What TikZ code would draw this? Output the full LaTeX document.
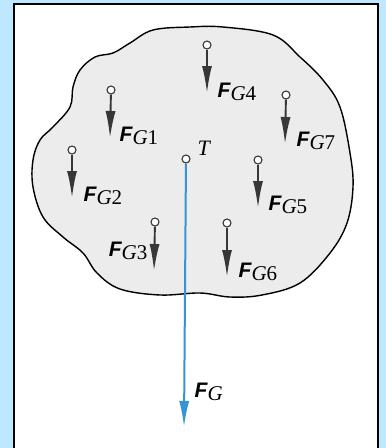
\documentclass[tikz,border=0pt]{standalone}
\usepackage{fontspec}
\setmainfont{Liberation Serif}
\newfontfamily\vecfont{Liberation Sans}
\usetikzlibrary{arrows.meta,positioning}
\definecolor{panelblue}{RGB}{190,232,255}
\definecolor{bodygray}{RGB}{236,236,236}
\definecolor{forcegray}{RGB}{55,55,55}
\definecolor{resblue}{RGB}{52,148,212}
\newcommand{\Fg}[1]{{\vecfont\bfseries\itshape F}\raisebox{-3pt}{\itshape G\upshape #1}}

\begin{document}
\begin{tikzpicture}[x=1pt,y=-1pt,thick,every node/.style={font=\fontsize{21}{24}\selectfont},
  pt/.style={circle,draw=forcegray,fill=white,line width=1.1pt,inner sep=0pt,minimum size=8pt},
  force/.style={forcegray,line width=1.9pt,-{Latex[length=27pt,width=10pt]}}]
\useasboundingbox (0,0) rectangle (386,448);
\fill[panelblue] (0,0) rectangle (386,448);
\draw[line width=2pt,fill=white] (13.5,3.5) rectangle (377.5,470);
% body
\draw[fill=bodygray,line width=1.4pt] plot[smooth cycle,tension=0.6] coordinates {
  (190,27) (223,27) (273,35) (300,57) (323,80) (340,107) (350,153) (353,187)
  (347,223) (330,253) (300,283) (262,295) (230,297) (200,293) (160,295) (120,289)
  (97,273) (83,253) (63,237) (43,217) (33,187) (33,160) (40,140) (53,127)
  (70,107) (73,87) (80,70) (95,57) (113,53) (130,43) (153,30)};
% resultant
\node[pt] (T) at (186,159) {};
\node[anchor=base west,font=\fontsize{22}{24}\selectfont\itshape] (Tl) at (194,155) {T};
\coordinate (eG) at (184,427);
\draw[resblue,line width=2pt,-{Latex[length=26pt,width=10pt]}] (T) -- (eG);
\node[anchor=base west] (lG) at (191,397) {{\vecfont\bfseries\itshape F}\raisebox{-3pt}{\itshape G}};
% partial weights
\node[pt] (p1) at (111,90) {};  \coordinate (e1) at (110,138);
\draw[force] (p1) -- (e1);
\node[anchor=base west] (l1) at (116,141) {\Fg{1}};
\node[pt] (p2) at (72,150) {};  \coordinate (e2) at (72,198);
\draw[force] (p2) -- (e2);
\node[anchor=base west] (l2) at (80,201) {\Fg{2}};
\node[pt] (p3) at (155,222) {}; \coordinate (e3) at (154,271);
\draw[force] (p3) -- (e3);
\node[anchor=base east] (l3) at (151,256) {\Fg{3}};
\node[pt] (p4) at (207,45) {};  \coordinate (e4) at (207,93);
\draw[force] (p4) -- (e4);
\node[anchor=base west] (l4) at (214,97) {\Fg{4}};
\node[pt] (p5) at (258,160) {}; \coordinate (e5) at (258,208);
\draw[force] (p5) -- (e5);
\node[anchor=base west] (l5) at (265,210) {\Fg{5}};
\node[pt] (p6) at (227,223) {}; \coordinate (e6) at (227,277);
\draw[force] (p6) -- (e6);
\node[anchor=base west] (l6) at (235,277) {\Fg{6}};
\node[pt] (p7) at (286,95) {};  \coordinate (e7) at (285,144);
\draw[force] (p7) -- (e7);
\node[anchor=base west] (l7) at (293,146) {\Fg{7}};
\end{tikzpicture}
\end{document}
